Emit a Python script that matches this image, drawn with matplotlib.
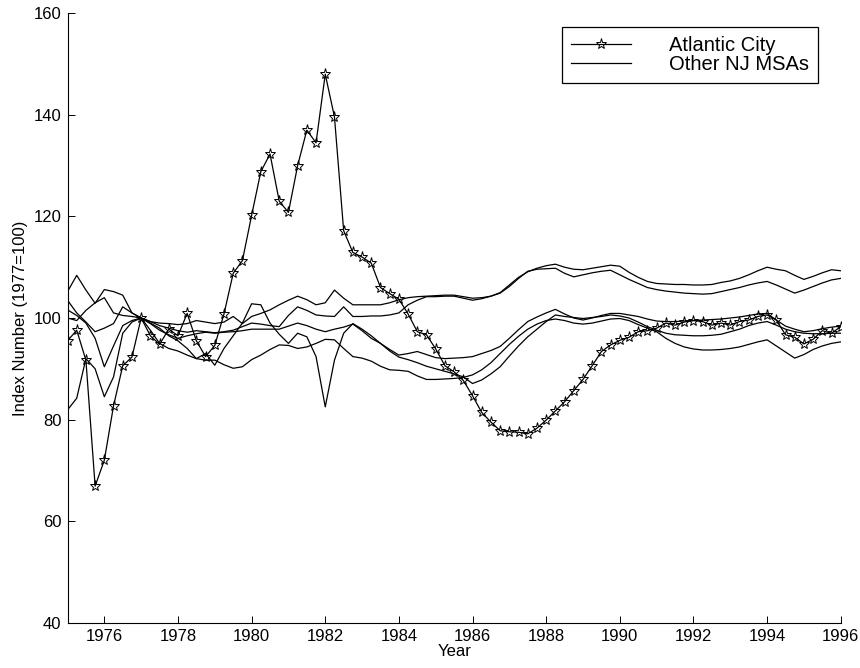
import numpy as np
import matplotlib
matplotlib.use('Agg')
import matplotlib.pyplot as plt

plt.rcParams['font.family'] = ['Liberation Sans', 'DejaVu Sans']

# quarterly observations, 1975Q1 .. 1996Q1
quarters = 1975 + np.arange(85) / 4.0

atlantic_city = [
    95.5, 97.6, 91.7, 66.9,
    72.0, 82.7, 90.6, 92.3,
    100.0, 96.5, 94.8, 97.8,
    96.5, 100.9, 95.5, 92.4,
    94.6, 100.8, 108.8, 111.3,
    120.2, 128.8, 132.3, 123.0,
    120.8, 130.0, 137.0, 134.5,
    148.0, 139.6, 117.2, 112.9,
    112.0, 110.8, 106.0, 104.8,
    103.7, 100.8, 97.3, 96.7,
    93.9, 90.6, 89.4, 87.7,
    84.7, 81.4, 79.5, 77.8,
    77.6, 77.5, 77.2, 78.3,
    79.9, 81.7, 83.5, 85.7,
    87.9, 90.6, 93.4, 94.7,
    95.6, 96.2, 97.3, 97.5,
    98.0, 99.0, 98.6, 99.2,
    99.5, 99.3, 98.6, 99.0,
    98.6, 99.3, 99.6, 100.3,
    100.6, 99.6, 96.7, 96.2,
    94.9, 95.8, 97.5, 97.0,
    98.3,
]

msa_1 = [
    105.2, 108.4, 105.5, 102.9,
    105.6, 105.2, 104.5, 101.0,
    100.0, 99.3, 99.0, 98.9,
    98.7, 98.9, 99.5, 99.2,
    98.9, 99.2, 100.3, 98.9,
    100.3, 100.9, 101.6, 102.6,
    103.5, 104.3, 103.6, 102.6,
    103.0, 105.5, 103.9, 102.6,
    102.6, 102.6, 102.6, 103.0,
    103.6, 104.0, 104.2, 104.3,
    104.4, 104.5, 104.5, 104.2,
    103.9, 104.0, 104.3, 105.0,
    106.5, 108.0, 109.1, 109.8,
    110.3, 110.6, 110.0, 109.6,
    109.5, 109.8, 110.1, 110.4,
    110.2, 109.0, 108.0, 107.2,
    106.8, 106.7, 106.6, 106.6,
    106.5, 106.5, 106.6, 107.0,
    107.3, 107.8, 108.5, 109.3,
    110.0, 109.6, 109.3, 108.4,
    107.6, 108.2, 108.9, 109.5,
    109.3,
]

msa_2 = [
    103.5, 101.0, 99.2, 97.3,
    98.0, 98.9, 102.2, 101.0,
    100.0, 99.3, 98.5, 98.0,
    97.5, 97.2, 97.5, 97.3,
    97.1, 97.3, 97.6, 98.3,
    99.0, 98.8, 98.5, 98.3,
    100.5, 102.2, 101.5, 100.6,
    100.4, 100.3, 102.2, 100.3,
    100.3, 100.4, 100.4, 100.6,
    101.0, 102.6, 103.5, 104.2,
    104.2, 104.3, 104.3, 103.9,
    103.5, 103.8, 104.3, 104.9,
    106.2, 107.8, 109.2, 109.6,
    109.7, 109.8, 108.8, 108.1,
    108.5, 108.9, 109.2, 109.4,
    108.5, 107.6, 106.8, 106.0,
    105.6, 105.3, 105.1, 104.9,
    104.8, 104.7, 104.8, 105.2,
    105.6, 106.0, 106.5, 106.9,
    107.2, 106.5, 105.7, 104.9,
    105.5, 106.2, 106.9, 107.5,
    107.8,
]

msa_3 = [
    101.6, 100.5, 99.0, 96.0,
    90.4, 94.5, 98.5, 99.5,
    100.0, 98.9, 97.6, 96.7,
    96.0, 96.5, 96.9, 97.2,
    97.0, 97.2, 97.3, 97.5,
    97.8, 97.8, 97.8, 97.8,
    98.4, 99.0, 98.5, 97.8,
    97.3, 97.8, 98.2, 98.8,
    97.5, 96.0, 95.0, 93.8,
    92.7, 93.0, 93.4, 92.8,
    92.2, 92.0, 92.1, 92.2,
    92.4, 93.0, 93.6, 94.4,
    96.0, 97.7, 99.3, 100.2,
    101.0, 101.7, 100.8, 100.0,
    99.6, 100.0, 100.5, 100.9,
    100.9, 100.6, 100.3, 99.8,
    99.4, 99.3, 99.3, 99.4,
    99.5, 99.6, 99.7, 99.8,
    100.0, 100.2, 100.5, 100.8,
    100.9, 99.6, 98.4, 97.8,
    97.3, 97.5, 97.9, 98.2,
    98.4,
]

msa_4 = [
    81.9, 84.2, 92.0, 90.0,
    84.5, 88.4, 97.0, 99.2,
    100.0, 99.0, 98.0, 96.5,
    95.5, 94.0, 92.0, 93.0,
    90.7, 94.0, 96.5, 99.0,
    102.8, 102.6, 99.0, 96.8,
    95.0, 97.0, 96.3, 92.4,
    82.5, 91.7, 97.0, 98.9,
    97.8, 96.5, 95.0, 93.5,
    92.3, 91.8, 91.2, 90.5,
    90.0, 89.5, 89.0, 88.4,
    87.1, 87.8, 89.0, 90.4,
    92.5, 94.5, 96.3, 97.8,
    99.3, 100.6, 100.3, 100.1,
    99.9, 100.1, 100.3, 100.6,
    100.4, 100.0, 99.2, 98.3,
    97.6, 97.0, 96.7, 96.6,
    96.5, 96.5, 96.6, 96.8,
    97.3, 97.8, 98.5, 99.0,
    99.3, 98.6, 97.8, 97.3,
    97.0, 96.9, 96.9, 97.0,
    97.0,
]

msa_5 = [
    100.0, 99.5, 101.5, 103.0,
    104.0, 101.0, 100.5, 100.3,
    100.0, 97.6, 95.0, 94.0,
    93.5, 92.7, 92.0, 91.7,
    91.7, 90.8, 90.1, 90.4,
    91.8, 92.7, 93.8, 94.7,
    94.6, 94.0, 94.3, 95.0,
    95.8, 95.7, 94.0, 92.4,
    92.1, 91.5, 90.5, 89.8,
    89.7, 89.5, 88.6, 87.9,
    87.9, 88.0, 88.1, 88.3,
    88.8, 89.8, 91.2, 93.0,
    94.8, 96.4, 97.8, 98.8,
    99.5, 99.8, 99.5, 99.0,
    98.8, 99.0, 99.4, 99.8,
    99.9, 99.5, 98.7, 98.0,
    97.3, 96.0, 95.0, 94.3,
    93.9, 93.7, 93.7, 93.8,
    94.0, 94.3, 94.8, 95.3,
    95.7, 94.5, 93.3, 92.1,
    92.8, 93.8, 94.5, 95.0,
    95.3,
]

other_msas = [msa_1, msa_2, msa_3, msa_4, msa_5]
x_ticks = [1976, 1978, 1980, 1982, 1984, 1986, 1988, 1990, 1992, 1994, 1996]
y_ticks = [40, 60, 80, 100, 120, 140, 160]

fig = plt.figure(figsize=(8.6, 6.68), dpi=100)
ax = fig.add_axes([0.0785, 0.0678, 0.8991, 0.9123])

ax.plot(quarters, atlantic_city, color='k', lw=0.9, marker='*', ms=8,
        mfc='none', mec='k', mew=0.7, label='Atlantic City')
for i, series in enumerate(other_msas):
    ax.plot(quarters, series, color='k', lw=0.9,
            label='Other NJ MSAs' if i == 0 else '_nolegend_')

ax.set_xlim(1975, 1996)
ax.set_ylim(40, 160)
ax.set_xticks(x_ticks)
ax.set_yticks(y_ticks)
ax.tick_params(direction='in', length=5, width=0.7, labelsize=12, pad=4.3,
               top=False, right=False)
for side in ['top', 'right']:
    ax.spines[side].set_visible(False)
for side in ['left', 'bottom']:
    ax.spines[side].set_linewidth(0.8)

ax.set_xlabel('Year', fontsize=12, labelpad=0)
ax.set_ylabel('Index Number (1977=100)', fontsize=12, labelpad=4)

# legend box as in the original: tight rows, square black frame
leg = ax.legend(loc='upper left', bbox_to_anchor=(0.639, 0.977), borderaxespad=0,
                fontsize=14.5, handlelength=3.0, handletextpad=1.9,
                labelspacing=0.0, borderpad=0.45, numpoints=1,
                fancybox=False, framealpha=1)
leg.get_frame().set_edgecolor('k')
leg.get_frame().set_linewidth(0.9)

fig.savefig('out.png', dpi=100)
